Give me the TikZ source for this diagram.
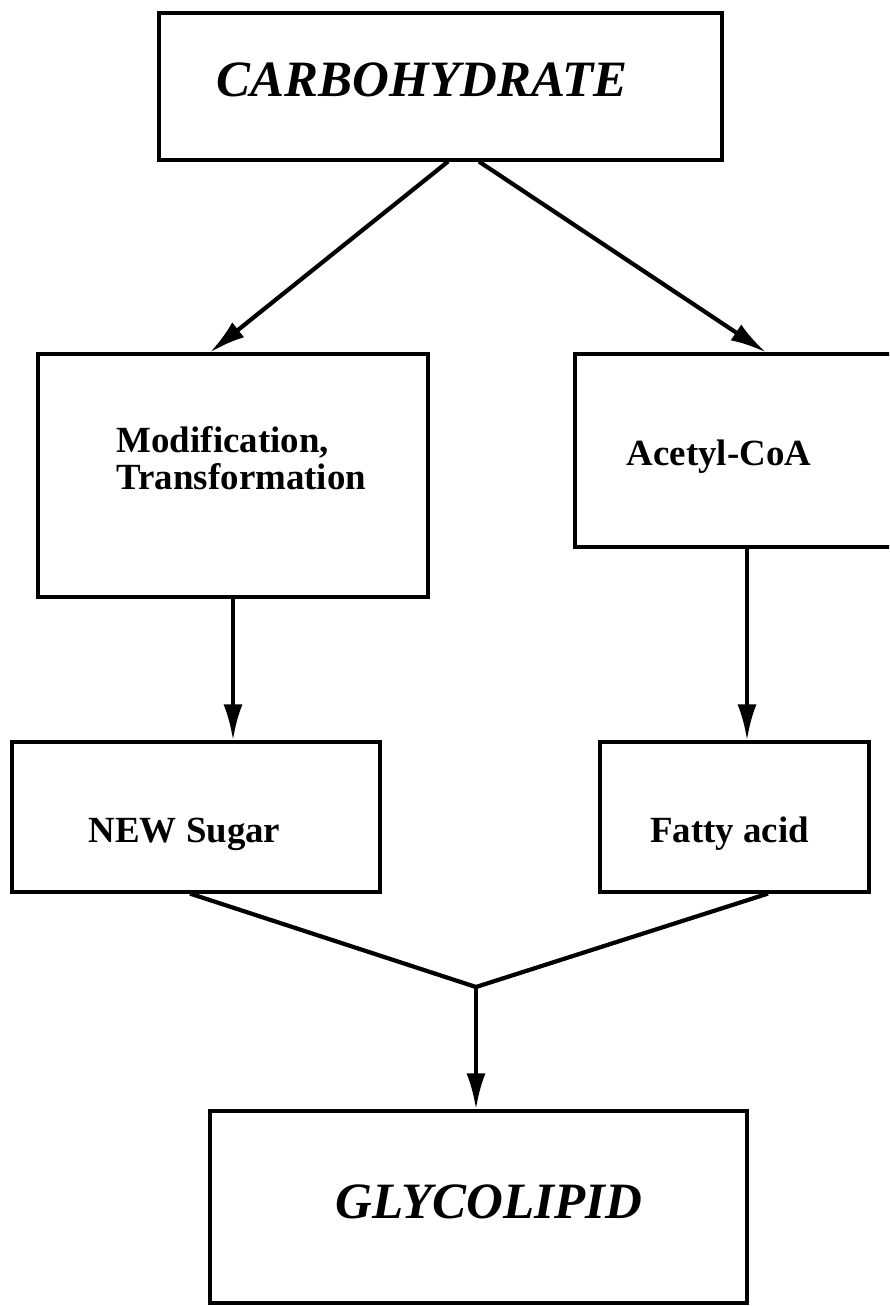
\documentclass[tikz,border=0pt]{standalone}
\usepackage{fontspec}
\setmainfont{Liberation Serif}
\usetikzlibrary{arrows.meta}

\tikzset{
  stepbox/.style={draw,line width=0.9pt,inner sep=0pt},
  tag/.style={font=\fontsize{10.5}{10.8}\selectfont\bfseries,align=left,inner sep=0pt},
  headline/.style={font=\fontsize{14.5}{17}\selectfont\bfseries\itshape,inner sep=0pt},
  flow/.style={line width=1.2pt,-{Latex[length=3.6mm,width=1.9mm]}},
}

\begin{document}
\begin{tikzpicture}
  \useasboundingbox (0,0) rectangle (8.89,-13.06);
  \clip (0,0) rectangle (8.89,-13.06);
  \node[stepbox,minimum width=5.63cm,minimum height=1.47cm] (carb) at (4.405,-0.865) {};
  \node[stepbox,minimum width=3.90cm,minimum height=2.43cm] (modif) at (2.33,-4.755) {};
  \node[stepbox,minimum width=3.30cm,minimum height=1.93cm] (acetyl) at (7.40,-4.505) {};
  \node[stepbox,minimum width=3.68cm,minimum height=1.50cm] (sugar) at (1.96,-8.17) {};
  \node[stepbox,minimum width=2.69cm,minimum height=1.50cm] (fatty) at (7.345,-8.17) {};
  \node[stepbox,minimum width=5.37cm,minimum height=1.92cm] (glyco) at (4.785,-12.07) {};
  \node[headline,anchor=base] (carbtxt) at (4.22,-0.97) {CARBOHYDRATE};
  \node[tag,anchor=base west] (modiftxt) at (1.16,-4.90) {Modification,\\Transformation};
  \node[tag,anchor=base] (acetyltxt) at (7.19,-4.66) {Acetyl-CoA};
  \node[tag,anchor=base] (sugartxt) at (1.845,-8.42) {NEW Sugar};
  \node[tag,anchor=base] (fattytxt) at (7.295,-8.42) {Fatty acid};
  \node[headline,anchor=base] (glycotxt) at (4.89,-12.18) {GLYCOLIPID};
  \draw[flow] ([xshift=0.075cm]carb.south) -- ([xshift=-0.23cm]modif.north);
  \draw[flow] ([xshift=0.385cm]carb.south) -- ([xshift=0.26cm]acetyl.north);
  \draw[flow] (modif.south) -- (modif.south |- sugar.north);
  \draw[flow] ([xshift=0.07cm]acetyl.south) -- ([xshift=0.07cm]acetyl.south |- fatty.north);
  \coordinate (join) at (4.76,-9.87);
  \draw[line width=1.2pt] ([xshift=-0.06cm]sugar.south) -- (join) -- ([xshift=0.335cm]fatty.south);
  \draw[flow] (join) -- (join |- glyco.north);
\end{tikzpicture}
\end{document}
